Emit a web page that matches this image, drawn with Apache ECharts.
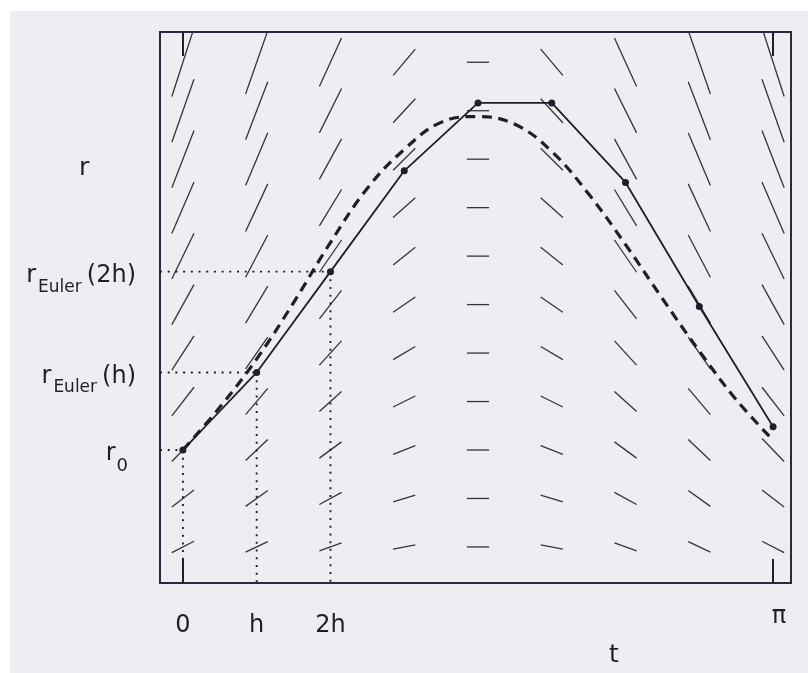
<!DOCTYPE html>
<html>
<head>
<meta charset="utf-8">
<script src="https://cdn.jsdelivr.net/npm/echarts@6.0.0/dist/echarts.min.js"></script>
<style>
  html, body { margin: 0; padding: 0; background: #fff; }
  #chart {
    width: 808px; height: 673px;
    background: linear-gradient(to right, #fff 10px, transparent 10px),
                linear-gradient(to bottom, #fff 11px, #eeedf1 11px);
  }
</style>
</head>
<body>
<div id="chart"></div>
<script>
// Euler steps, h = pi/8
const tEuler = [0, 0.3927, 0.7854, 1.1781, 1.5708, 1.9635, 2.3562, 2.7489, 3.1416];
const rEuler = [1.00, 1.40, 1.92, 2.44, 2.79, 2.79, 2.38, 1.74, 1.12];

// exact solution (dashed)
const tExact = [0, 0.196, 0.393, 0.589, 0.785, 0.982, 1.178, 1.374, 1.571,
                1.767, 1.963, 2.160, 2.356, 2.553, 2.749, 2.945, 3.142];
const rExact = [1.00, 1.22, 1.47, 1.76, 2.07, 2.35, 2.55, 2.69, 2.72,
                2.68, 2.54, 2.32, 2.06, 1.78, 1.51, 1.26, 1.05];

// direction field: columns, rows, slope of each segment (row by row)
const fieldT = [0, 0.3927, 0.7854, 1.1781, 1.5708, 1.9635, 2.3562, 2.7489, 3.1416];
const fieldR = [0.5, 0.75, 1.0, 1.25, 1.5, 1.75, 2.0, 2.25, 2.5, 2.75, 3.0];
const fieldSlope = [
    [0.50, 0.46, 0.35, 0.19, 0, -0.19, -0.35, -0.46, -0.50],
    [0.75, 0.69, 0.53, 0.29, 0, -0.29, -0.53, -0.69, -0.75],
    [1.00, 0.92, 0.71, 0.38, 0, -0.38, -0.71, -0.92, -1.00],
    [1.25, 1.15, 0.88, 0.48, 0, -0.48, -0.88, -1.15, -1.25],
    [1.50, 1.39, 1.06, 0.57, 0, -0.57, -1.06, -1.39, -1.50],
    [1.75, 1.62, 1.24, 0.67, 0, -0.67, -1.24, -1.62, -1.75],
    [2.00, 1.85, 1.41, 0.77, 0, -0.77, -1.41, -1.85, -2.00],
    [2.25, 2.08, 1.59, 0.86, 0, -0.86, -1.59, -2.08, -2.25],
    [2.50, 2.31, 1.77, 0.96, 0, -0.96, -1.77, -2.31, -2.50],
    [2.75, 2.54, 1.94, 1.05, 0, -1.05, -1.94, -2.54, -2.75],
    [3.00, 2.77, 2.12, 1.15, 0, -1.15, -2.12, -2.77, -3.00]
];

// tick labels
const xLabelValues = [0, 0.3927, 0.7854];
const xLabelText = ['0', 'h', '2h'];
const piValue = 3.1416;
const piText = 'π';
const frameTicks = [0, 3.1416];
const yLabelMain = ['r', 'r', 'r'];
const yLabelSub = ['0', 'Euler', 'Euler'];
const yLabelArg = ['', '(h)', '(2h)'];

const X_MIN = -0.122, X_MAX = 3.237;
const Y_MIN = 0.314, Y_MAX = 3.156;
const INK = '#221d2a';
const FONT = 'DejaVu Sans';
const HALF = 0.059;

function nearest(arr, v) {
    let best = 0;
    arr.forEach((a, i) => { if (Math.abs(a - v) < Math.abs(arr[best] - v)) best = i; });
    return best;
}

const fieldData = [];
fieldR.forEach((r, i) => {
    fieldT.forEach((t, j) => fieldData.push([t, r, fieldSlope[i][j]]));
});

const guideStyle = { color: INK, width: 1.9, type: [2, 5.7], cap: 'butt' };
const guides = [];
for (let i = 0; i < 3; i++) {
    guides.push([[X_MIN, rEuler[i]], [tEuler[i], rEuler[i]]]);
    guides.push([[tEuler[i], rEuler[i]], [tEuler[i], Y_MIN]]);
}

const chart = echarts.init(document.getElementById('chart'), null, { renderer: 'canvas' });

const baseX = {
    type: 'value', min: X_MIN, max: X_MAX,
    axisLine: { show: false }, splitLine: { show: false }
};

chart.setOption({
    backgroundColor: 'transparent',
    animation: false,
    grid: {
        left: 160, top: 32, width: 631, height: 551,
        show: true, borderColor: '#2b2a3c', borderWidth: 2, backgroundColor: 'transparent'
    },
    xAxis: [
        Object.assign({}, baseX, {
            position: 'bottom',
            axisTick: { show: true, inside: true, length: 24, customValues: frameTicks, lineStyle: { color: INK, width: 2 } },
            axisLabel: {
                customValues: xLabelValues,
                formatter: v => xLabelText[nearest(xLabelValues, v)],
                margin: 31, fontSize: 24, color: INK, fontFamily: FONT
            }
        }),
        Object.assign({}, baseX, {
            position: 'bottom',
            axisTick: { show: false },
            axisLabel: {
                customValues: [piValue], formatter: () => piText,
                margin: 22, fontSize: 24, color: INK, fontFamily: FONT, padding: [0, 0, 0, 12]
            }
        }),
        Object.assign({}, baseX, {
            position: 'top',
            axisTick: { show: true, inside: true, length: 24, customValues: frameTicks, lineStyle: { color: INK, width: 2 } },
            axisLabel: { show: false }
        })
    ],
    yAxis: {
        type: 'value', min: Y_MIN, max: Y_MAX,
        axisLine: { show: false }, splitLine: { show: false }, axisTick: { show: false },
        axisLabel: {
            customValues: rEuler.slice(0, 3),
            margin: 24,
            formatter: v => {
                const i = nearest(rEuler.slice(0, 3), v);
                if (!yLabelArg[i]) return '{m|' + yLabelMain[i] + '}{z|' + yLabelSub[i] + '}';
                return '{m|' + yLabelMain[i] + '}{s|' + yLabelSub[i] + '}{a|' + yLabelArg[i] + '}';
            },
            rich: {
                m: { fontSize: 24, lineHeight: 28, color: INK, fontFamily: FONT, verticalAlign: 'top', padding: [6, 0, 0, 0] },
                a: { fontSize: 24, lineHeight: 28, color: INK, fontFamily: FONT, verticalAlign: 'top', padding: [6, 0, 0, 5] },
                s: { fontSize: 17, lineHeight: 16, color: INK, fontFamily: FONT, verticalAlign: 'top', padding: [21, 0, 0, 2] },
                z: { fontSize: 18, lineHeight: 16, color: INK, fontFamily: FONT, verticalAlign: 'top', padding: [21, 8, 0, 1] }
            }
        }
    },
    graphic: [
        { type: 'text', left: 79, top: 156, style: { text: 'r', fontSize: 25, fill: INK, fontFamily: FONT } },
        { type: 'text', left: 609, top: 643, style: { text: 't', fontSize: 25, fill: INK, fontFamily: FONT } }
    ],
    series: [
        {
            type: 'custom', name: 'field', clip: true, z: 1,
            data: fieldData,
            encode: { x: 0, y: 1 },
            renderItem: (params, api) => {
                const t = api.value(0), r = api.value(1), s = api.value(2);
                const a = api.coord([t - HALF, r - s * HALF]);
                const b = api.coord([t + HALF, r + s * HALF]);
                return {
                    type: 'line',
                    shape: { x1: a[0], y1: a[1], x2: b[0], y2: b[1] },
                    style: { stroke: '#37323f', lineWidth: 1.3 }
                };
            }
        },
        ...guides.map(g => ({
            type: 'line', z: 2, symbol: 'none', silent: true,
            data: g, lineStyle: guideStyle
        })),
        {
            type: 'line', name: 'exact', z: 3, smooth: 0.4, symbol: 'none',
            data: tExact.map((t, i) => [t, rExact[i]]),
            lineStyle: { color: INK, width: 3.2, type: [10, 6.5], cap: 'butt' }
        },
        {
            type: 'line', name: 'Euler', z: 4, symbol: 'circle', symbolSize: 7,
            data: tEuler.map((t, i) => [t, rEuler[i]]),
            lineStyle: { color: INK, width: 1.8 },
            itemStyle: { color: INK }
        }
    ]
});
</script>
</body>
</html>
